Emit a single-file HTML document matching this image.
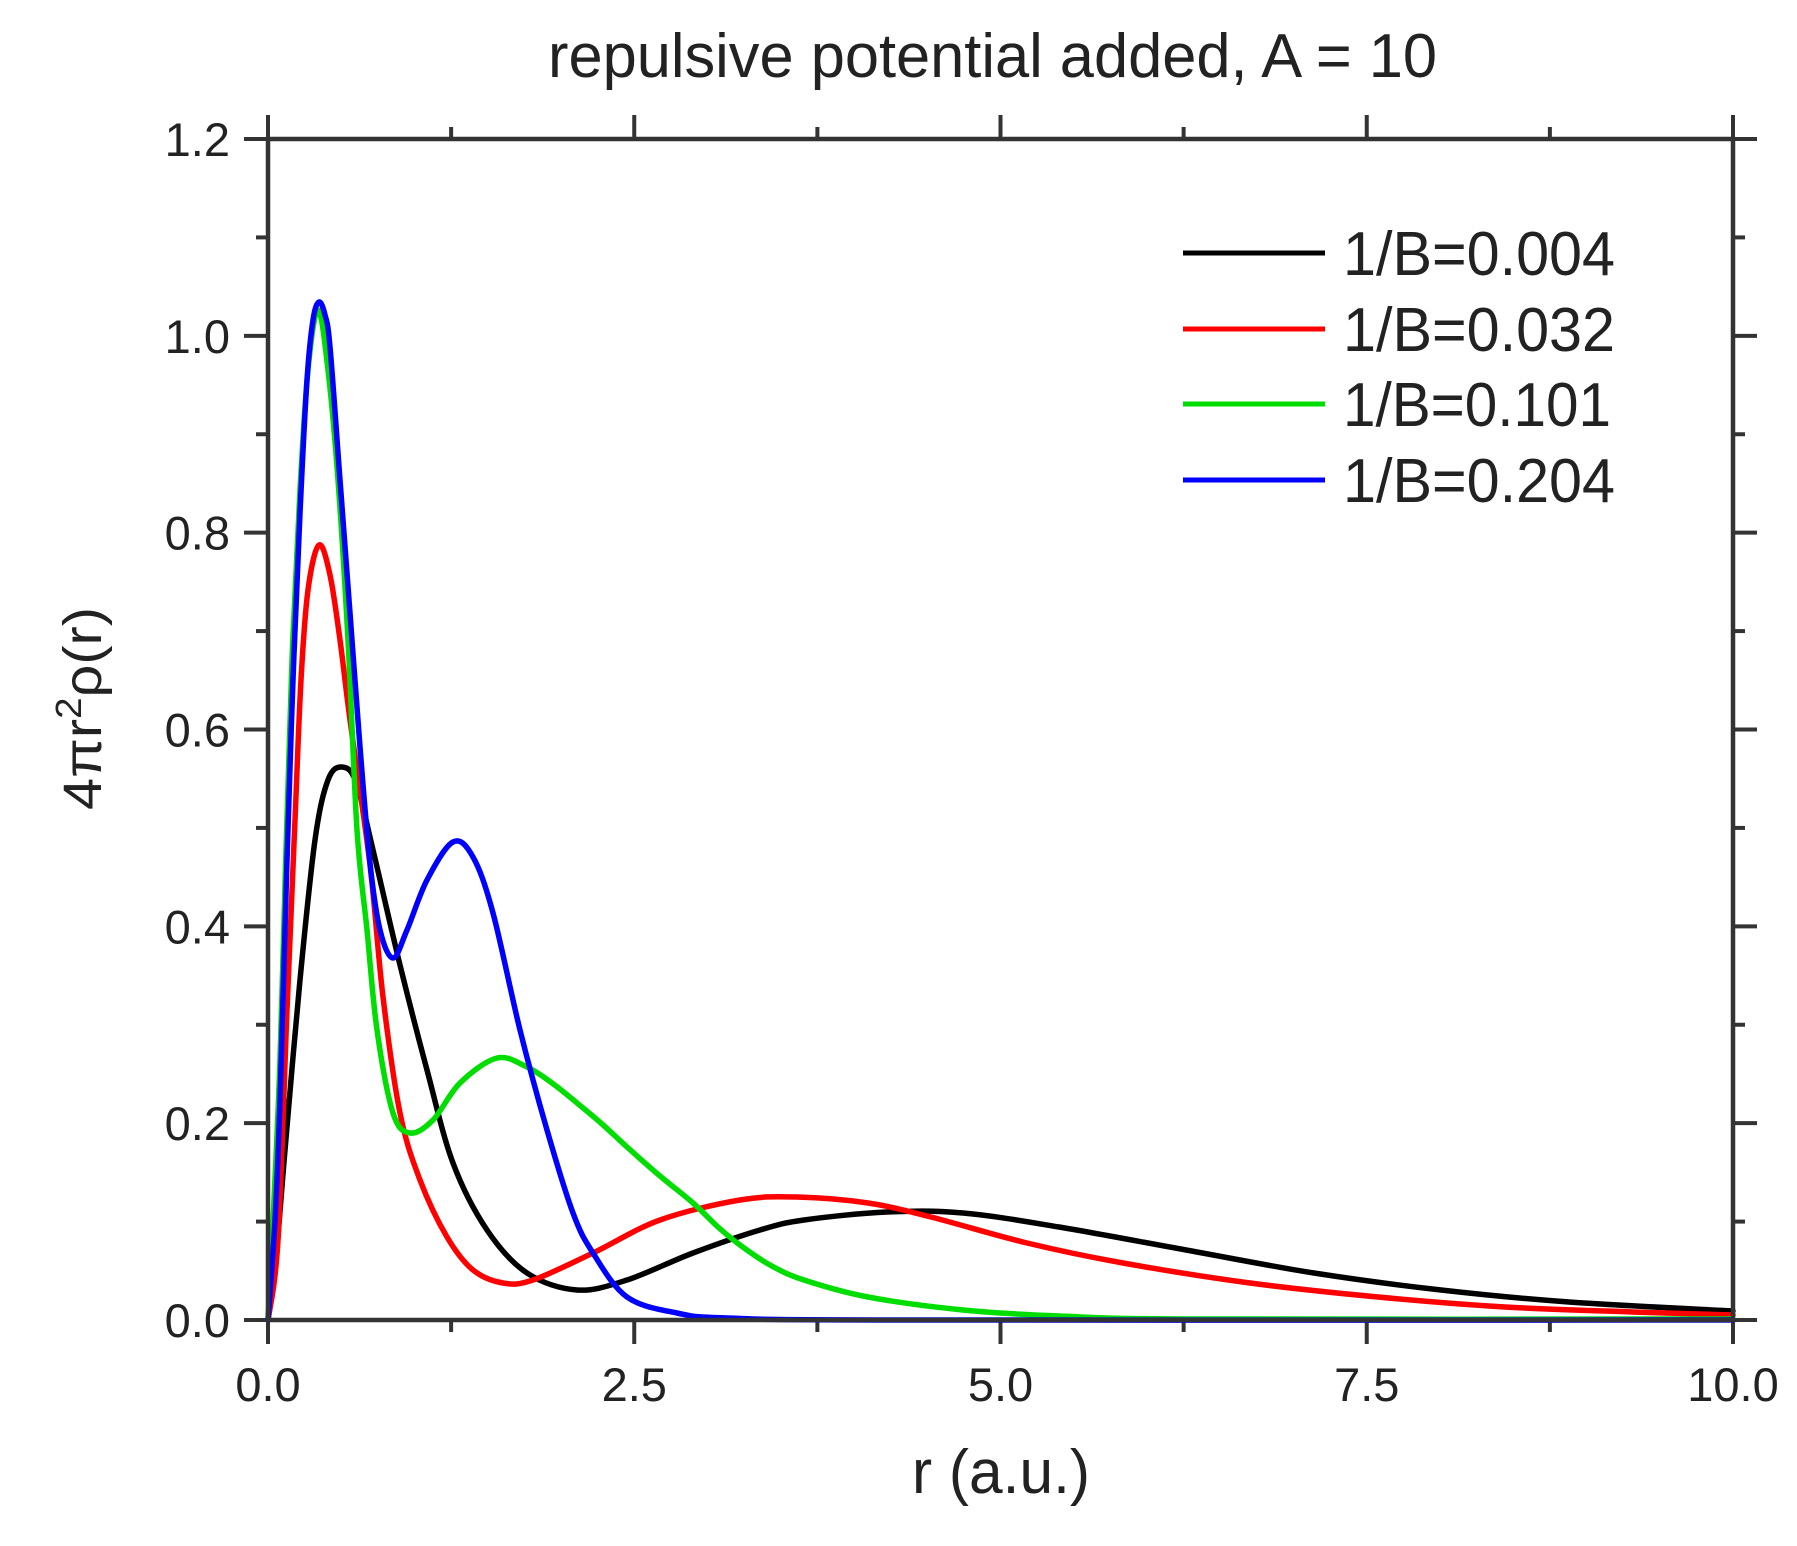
<!DOCTYPE html>
<html><head><meta charset="utf-8"><style>
html,body{margin:0;padding:0;background:#fff}
svg{display:block}
text{font-family:"Liberation Sans",sans-serif;fill:#222}
</style></head><body>
<svg id="s" width="1797" height="1546" viewBox="0 0 1797 1546" xmlns="http://www.w3.org/2000/svg">
<rect width="1797" height="1546" fill="#fff"/>
<text x="548" y="77" font-size="62" textLength="889" lengthAdjust="spacingAndGlyphs">repulsive potential added, A = 10</text>
<g id="ticks" stroke="#333" stroke-width="4"></g>
<g id="curves" fill="none" stroke-width="5.5" stroke-linejoin="round" stroke-linecap="round"></g>
<rect x="268" y="139" width="1465" height="1181" fill="none" stroke="#333" stroke-width="4.5"/>
<g font-size="47" text-anchor="end" id="ylab"></g>
<g font-size="47" text-anchor="middle" id="xlab"></g>
<text x="912" y="1493" font-size="62" textLength="178" lengthAdjust="spacingAndGlyphs">r (a.u.)</text>
<text transform="translate(101,810) rotate(-90)" font-size="54" textLength="203" lengthAdjust="spacingAndGlyphs">4πr<tspan dy="-20" font-size="36">2</tspan><tspan dy="20">ρ(r)</tspan></text>
<g stroke-width="5">
<line x1="1183" y1="253" x2="1325" y2="253" stroke="#000"/>
<line x1="1183" y1="329" x2="1325" y2="329" stroke="#f00"/>
<line x1="1183" y1="404" x2="1325" y2="404" stroke="#0d0"/>
<line x1="1183" y1="480" x2="1325" y2="480" stroke="#00f"/>
</g>
<g font-size="62">
<text x="1343" y="275" textLength="272" lengthAdjust="spacingAndGlyphs">1/B=0.004</text>
<text x="1343" y="351" textLength="272" lengthAdjust="spacingAndGlyphs">1/B=0.032</text>
<text x="1343" y="426" textLength="268" lengthAdjust="spacingAndGlyphs">1/B=0.101</text>
<text x="1343" y="502" textLength="272" lengthAdjust="spacingAndGlyphs">1/B=0.204</text>
</g>
</svg>
<script>
var NS="http://www.w3.org/2000/svg";
function el(p,t,a,txt){var e=document.createElementNS(NS,t);for(var k in a)e.setAttribute(k,a[k]);if(txt!=null)e.textContent=txt;document.getElementById(p).appendChild(e);}
var x0=268,x1=1733,y0=1320,y1=139;
for(var i=0;i<=8;i++){var x=x0+(x1-x0)*i/8;var L=(i%2==0)?24:12;
 el("ticks","line",{x1:x,y1:y0,x2:x,y2:y0+L});el("ticks","line",{x1:x,y1:y1,x2:x,y2:y1-L});}
for(var i=0;i<=12;i++){var y=y0-(y0-y1)*i/12;var maj=(i%2==0);var L=maj?24:12;
 el("ticks","line",{x1:x0,y1:y,x2:x0-L,y2:y});el("ticks","line",{x1:x1,y1:y,x2:x1+L,y2:y});
 if(maj)el("ylab","text",{x:230,y:y+17},(i/10).toFixed(1));}
for(var i=0;i<=4;i++){el("xlab","text",{x:x0+(x1-x0)*i/4,y:1401},(i*2.5).toFixed(1));}
function path(pts){var d="M"+pts[0][0]+","+pts[0][1];for(var i=0;i<pts.length-1;i++){var p0=pts[i-1]||pts[i],p1=pts[i],p2=pts[i+1],p3=pts[i+2]||p2;
 d+=" C"+(p1[0]+(p2[0]-p0[0])/6)+","+(p1[1]+(p2[1]-p0[1])/6)+" "+(p2[0]-(p3[0]-p1[0])/6)+","+(p2[1]-(p3[1]-p1[1])/6)+" "+p2[0]+","+p2[1];}return d;}
var black=[[268,1320],[275,1270],[285,1150],[300,980],[315,840],[328,780],[342,767],[356,782],[373,850],[400,965],[427,1070],[453,1163],[487,1230],[527,1273],[577,1290],[627,1280],[693,1253],[760,1230],[804,1220],[887,1212],[963,1213],[1059,1227],[1186,1250],[1314,1273],[1441,1290],[1569,1302],[1733,1311]];
var red=[[268,1320],[278,1240],[287,1010],[295,820],[301,680],[308,590],[319,545],[330,575],[340,640],[350,720],[370,865],[383,997],[400,1113],[420,1180],[447,1237],[473,1270],[503,1283],[533,1280],[593,1253],[660,1220],[740,1200],[797,1197],[868,1203],[931,1217],[1027,1243],[1123,1263],[1250,1283],[1378,1297],[1505,1307],[1633,1312],[1733,1315]];
var green=[[268,1320],[274,1200],[280,1060],[286,850],[292,660],[300,490],[308,370],[318,310],[328,370],[338,480],[348,640],[357,830],[367,930],[377,1030],[393,1113],[410,1133],[433,1120],[460,1083],[497,1058],[527,1067],[552,1083],[577,1103],[602,1124],[627,1147],[660,1176],[693,1203],[718,1227],[740,1245],[770,1265],[804,1280],[868,1297],[963,1310],[1059,1316],[1200,1319],[1733,1319]];
var blue=[[268,1320],[275,1220],[280,1100],[287,860],[293,680],[300,513],[307,380],[313,320],[319,302],[325,315],[330,347],[340,480],[350,613],[360,747],[370,863],[380,930],[393,958],[407,930],[427,880],[453,842],[473,857],[493,913],[520,1030],[547,1130],[573,1213],[593,1253],[627,1297],[677,1313],[727,1318],[900,1320],[1733,1320]];
[[black,"#000"],[red,"#f00"],[green,"#0d0"],[blue,"#00f"]].forEach(function(c){el("curves","path",{d:path(c[0]),stroke:c[1]});});
</script>
</body></html>
